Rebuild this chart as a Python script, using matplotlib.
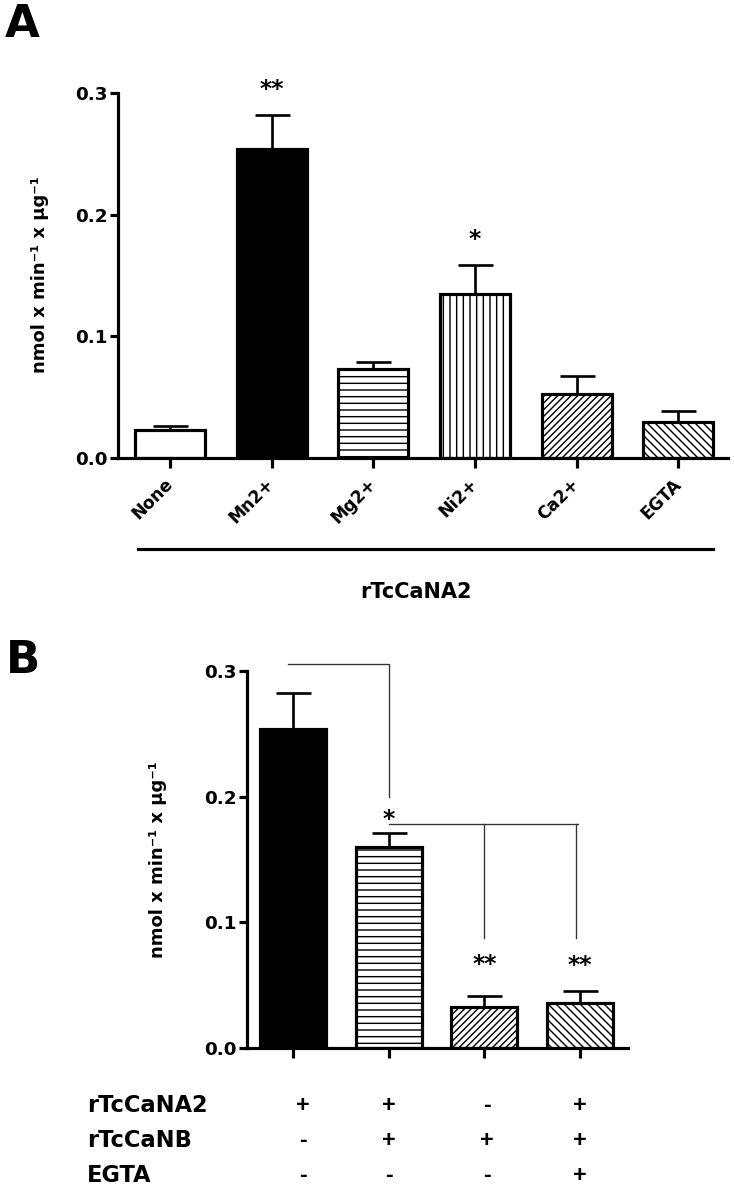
import matplotlib
matplotlib.use('Agg')
import matplotlib.pyplot as plt
from matplotlib import transforms
from matplotlib.lines import Line2D

plt.rcParams['font.family'] = ['DejaVu Sans']
plt.rcParams['font.weight'] = 'bold'
plt.rcParams['hatch.linewidth'] = 0.85
plt.rcParams['hatch.color'] = 'black'

# ---------------- data ----------------
a_labels = ['None', 'Mn2+', 'Mg2+', 'Ni2+', 'Ca2+', 'EGTA']
a_values = [0.023, 0.254, 0.073, 0.135, 0.053, 0.030]
a_errors = [0.003, 0.028, 0.006, 0.024, 0.014, 0.009]
a_stars = ['', '**', '', '*', '', '']

b_values = [0.254, 0.160, 0.033, 0.036]
b_errors = [0.0285, 0.011, 0.008, 0.009]
b_stars = ['', '*', '**', '**']
b_rows = ['rTcCaNA2', 'rTcCaNB', 'EGTA']
b_table = [['+', '+', '-', '+'],
           ['-', '+', '+', '+'],
           ['-', '-', '-', '+']]

yticks = [0.0, 0.1, 0.2, 0.3]
ytick_labels = ['0.0', '0.1', '0.2', '0.3']
ylabel = 'nmol x min\u207b\u00b9 x \u03bcg\u207b\u00b9'

# ---------------- styles ----------------
a_fills = ['white', 'black', 'white', 'white', 'white', 'white']
a_hatches = [None, None, '---', '|||', '//////', '\\\\\\\\\\']
b_fills = ['black', 'white', 'white', 'white']
b_hatches = [None, '---', '//////', '\\\\\\\\\\']

DPI = 120
W, H = 734, 1191
fig = plt.figure(figsize=(W / DPI, H / DPI), dpi=DPI)


def rect(l, t, r, b):
    return [l / W, 1 - b / H, (r - l) / W, (b - t) / H]


LW = 1.9


def style_axes(ax):
    for s in ['top', 'right']:
        ax.spines[s].set_visible(False)
    for s in ['left', 'bottom']:
        ax.spines[s].set_linewidth(LW)
    ax.set_ylim(0, 0.3)
    ax.set_yticks(yticks)
    ax.set_yticklabels(ytick_labels, fontsize=11, fontweight='bold')
    ax.tick_params(axis='y', length=5, width=LW, pad=1)
    ax.tick_params(axis='x', length=6, width=LW)


def draw_bars(ax, values, errors, fills, hatches, width):
    x = list(range(len(values)))
    for i, v in enumerate(values):
        ax.bar(i, v, width=width, color=fills[i], edgecolor='black',
               linewidth=LW, hatch=hatches[i], zorder=2)
    ax.errorbar(x, values, yerr=[[0] * len(values), errors], fmt='none',
                ecolor='black', elinewidth=1.6, capsize=10.5, capthick=1.6,
                zorder=3)


# ---------------- panel A ----------------
axA = fig.add_axes(rect(118, 93, 728, 458))
style_axes(axA)
axA.set_xlim(-0.512, 5.49)
draw_bars(axA, a_values, a_errors, a_fills, a_hatches, 0.69)
axA.set_xticks(range(len(a_labels)))
axA.set_xticklabels(a_labels, rotation=45, ha='right', va='center',
                    rotation_mode='anchor', fontsize=10.3, fontweight='bold')
axA.tick_params(axis='x', pad=8)
for i, s in enumerate(a_stars):
    if s:
        axA.text(i, a_values[i] + a_errors[i] + 0.0155, s, ha='center',
                 va='baseline', fontsize=14, fontweight='bold')

fig.add_artist(Line2D([138 / W, 713 / W], [1 - 549 / H, 1 - 549 / H],
                      transform=fig.transFigure, color='black', lw=LW))
fig.text(416 / W, 1 - 598 / H, 'rTcCaNA2', ha='center', va='baseline',
         fontsize=12.5, fontweight='bold')
fig.text(40 / W, 1 - 275 / H, ylabel, rotation=90, ha='center', va='center',
         fontsize=10.8, fontweight='bold')
fig.text(5 / W, 1 - 37 / H, 'A', ha='left', va='baseline', fontsize=27,
         fontweight='bold')

# ---------------- panel B ----------------
axB = fig.add_axes(rect(247, 671, 628, 1048))
style_axes(axB)
axB.set_xlim(-0.48, 3.50)
draw_bars(axB, b_values, b_errors, b_fills, b_hatches, 0.69)
axB.set_xticks(range(len(b_values)))
axB.set_xticklabels([])

b_star_y = [0, 0.1765, 0.061, 0.0605]
for i, s in enumerate(b_stars):
    if s:
        axB.text(i, b_star_y[i], s, ha='center', va='baseline', fontsize=14,
                 fontweight='bold')

br = dict(color='#333333', lw=0.8, clip_on=False, zorder=4)
axB.plot([-0.05, 1, 1], [0.3056, 0.3056, 0.1997], **br)
axB.plot([1, 2.98], [0.1782, 0.1782], **br)
axB.plot([2, 2], [0.1782, 0.0875], **br)
axB.plot([2.96, 2.96], [0.1782, 0.0875], **br)

fig.text(158 / W, 1 - 860 / H, ylabel, rotation=90, ha='center', va='center',
         fontsize=10.8, fontweight='bold')
fig.text(6 / W, 1 - 673 / H, 'B', ha='left', va='baseline', fontsize=27,
         fontweight='bold')

row_base = [1112, 1147, 1182]
col_x = [0.10, 1.0, 2.03, 3.0]
tr = transforms.blended_transform_factory(axB.transData, fig.transFigure)
for r, name in enumerate(b_rows):
    fig.text(87 / W, 1 - row_base[r] / H, name, ha='left', va='baseline',
             fontsize=13.5, fontweight='bold')
    for c, sym in enumerate(b_table[r]):
        fig.text(col_x[c], 1 - row_base[r] / H, sym, transform=tr,
                 ha='center', va='baseline', fontsize=14, fontweight='bold',
                 family=['Liberation Sans'])

fig.savefig('out.png', dpi=DPI)
